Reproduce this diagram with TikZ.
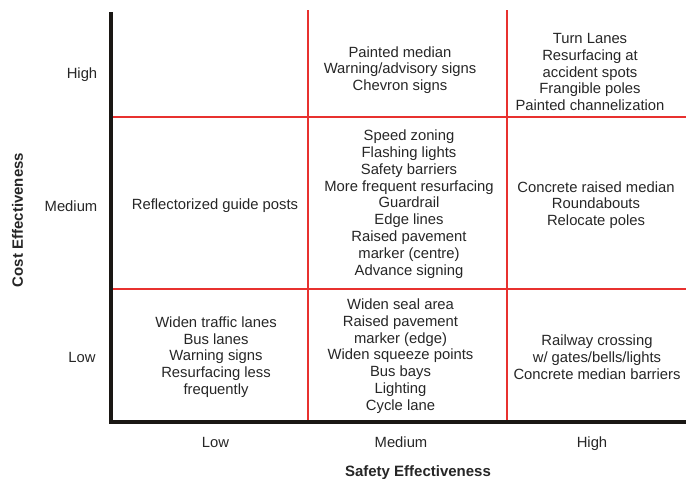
\documentclass[tikz,border=0pt]{standalone}
\usepackage{fontspec}
\setmainfont{Liberation Sans}
\usetikzlibrary{positioning}
\definecolor{grid}{HTML}{E8312F}
\definecolor{axis}{HTML}{1A1714}

\begin{document}
\begin{tikzpicture}[
  x=1pt, y=-1pt,
  every node/.style={font=\fontsize{14.8}{16.8}\selectfont, text=black!85, inner sep=0pt},
  cell/.style={align=center},
  lbl/.style={anchor=base},
  title/.style={font=\fontsize{15}{17}\selectfont\bfseries},
  axisline/.style={draw=axis, line width=4pt},
  gridline/.style={draw=grid, line width=1.1pt}
]
  \useasboundingbox (0,0) rectangle (686,479);

  % Frame corners
  \coordinate (top)  at (110.5, 12);
  \coordinate (orig) at (110.5, 422);
  \coordinate (end)  at (686, 422);

  % Red grid
  \coordinate (v1t) at (308, 10);  \coordinate (v1b) at (308, 422);
  \coordinate (v2t) at (507, 10);  \coordinate (v2b) at (507, 422);
  \coordinate (h1l) at (110.5, 117); \coordinate (h1r) at (686, 117);
  \coordinate (h2l) at (110.5, 289); \coordinate (h2r) at (686, 289);
  \draw[gridline] (v1t) -- (v1b);
  \draw[gridline] (v2t) -- (v2b);
  \draw[gridline] (h1l) -- (h1r);
  \draw[gridline] (h2l) -- (h2r);

  % Axes
  \draw[axisline] (top) -- (orig) -- (end);

  % Row labels
  \node[lbl] (yhigh) at (82, 78)  {High};
  \node[lbl] (ymed)  at (71, 211) {Medium};
  \node[lbl] (ylow)  at (82, 362) {Low};
  \node[title, rotate=90] (ytitle) at (17.5, 220) {Cost Effectiveness};

  % Column labels
  \node[lbl] (xlow)  at (215.5, 447) {Low};
  \node[lbl] (xmed)  at (401, 447) {Medium};
  \node[lbl] (xhigh) at (592, 447) {High};
  \node[title] (xtitle) at (418, 473) {Safety Effectiveness};

  % High cost effectiveness
  \node[cell] (hm) at (400, 70)
    {Painted median\\Warning/advisory signs\\Chevron signs};
  \node[cell] (hh) at (590, 72)
    {Turn Lanes\\Resurfacing at\\accident spots\\Frangible poles\\Painted channelization};

  % Medium cost effectiveness
  \node[cell] (ml) at (215, 206) {Reflectorized guide posts};
  \node[cell] (mm) at (409, 204)
    {Speed zoning\\Flashing lights\\Safety barriers\\More frequent resurfacing\\Guardrail\\Edge lines\\Raised pavement\\marker (centre)\\Advance signing};
  \node[cell] (mh) at (596, 205)
    {Concrete raised median\\Roundabouts\\Relocate poles};

  % Low cost effectiveness
  \node[cell] (ll) at (216, 357)
    {Widen traffic lanes\\Bus lanes\\Warning signs\\Resurfacing less\\frequently};
  \node[cell] (lm) at (400.5, 356)
    {Widen seal area\\Raised pavement\\marker (edge)\\Widen squeeze points\\Bus bays\\Lighting\\Cycle lane};
  \node[cell] (lh) at (597, 357)
    {Railway crossing\\w/ gates/bells/lights\\Concrete median barriers};

\end{tikzpicture}
\end{document}
